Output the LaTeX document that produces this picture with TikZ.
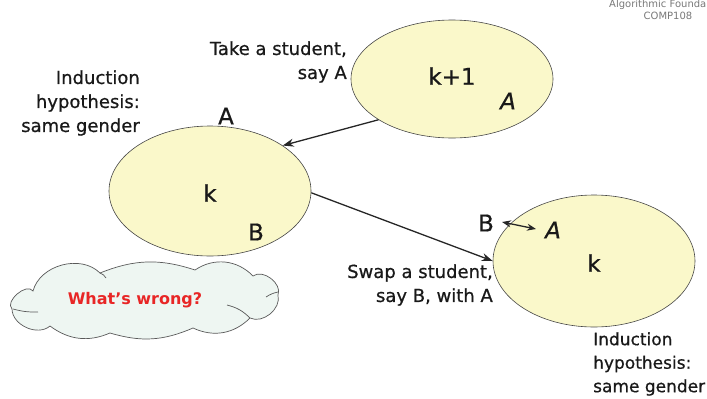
\documentclass[tikz,border=0pt]{standalone}
\usepackage{fontspec}
\setmainfont{DejaVu Sans}
\newfontfamily\handfont[FakeBold=0.7]{DejaVu Sans}
\usetikzlibrary{shapes.geometric,arrows.meta}
\definecolor{setfill}{RGB}{250,248,202}
\definecolor{setline}{RGB}{70,70,70}
\definecolor{cloudfill}{RGB}{238,246,242}
\definecolor{alertred}{RGB}{232,38,38}
\definecolor{headgray}{RGB}{120,120,120}
\tikzset{
  setblob/.style={ellipse, draw=setline, fill=setfill, line width=0.6pt, inner sep=0pt},
  bigletter/.style={font=\handfont\fontsize{23}{26}\selectfont, text=black!90, inner sep=0pt},
  remark/.style={font=\handfont\fontsize{18}{24}\selectfont, text=black!90, inner sep=0pt},
  link/.style={-{Stealth[length=11pt,width=8pt,inset=3.5pt]}, line width=1.3pt, draw=black!85},
  swaplink/.style={{Stealth[length=9pt,width=7pt,inset=3pt]}-{Stealth[length=9pt,width=7pt,inset=3pt]}, line width=1.3pt, draw=black!85},
  header/.style={font=\fontsize{10}{10}\selectfont, text=headgray, inner sep=0pt},
  cloudedge/.style={draw=black!65, line width=0.7pt}
}
\begin{document}
\begin{tikzpicture}[x=1pt,y=-1pt]
\useasboundingbox (0,0) rectangle (707,399);
\begin{scope}
\clip (0,0) rectangle (707,399);

% header
\node[header, anchor=west] (title) at (609,5) {Algorithmic Founda};
\node[header] (course) at (668,16) {COMP108};

% the three sets
\node[setblob, minimum width=202pt, minimum height=118pt] (big) at (452,79) {};
\node[setblob, minimum width=202pt, minimum height=130pt] (left) at (210,191) {};
\node[setblob, minimum width=202pt, minimum height=132pt] (right) at (594,261) {};

% labels inside and around the sets
\node[bigletter] (bigk) at (452,76) {k+1};
\node[bigletter] (bigA) at (508,101) {\itshape A};
\node[bigletter] (leftA) at (226,116) {A};
\node[bigletter] (leftk) at (210,193) {k};
\node[bigletter] (leftB) at (256,232) {B};
\node[bigletter] (rightB) at (486,223) {B};
\node[bigletter] (rightA) at (553,230) {\itshape A};
\node[bigletter] (rightk) at (594,263) {k};

% remarks
\node[remark, align=right, anchor=east] (take) at (347,62) {Take a student,\\say A};
\node[remark, align=right, anchor=east] (hypl) at (140,103) {Induction\\hypothesis:\\same gender};
\node[remark, align=right, anchor=east] (swap) at (493,285) {Swap a student,\\say B, with A};
\node[remark, align=left, anchor=west, font=\handfont\fontsize{17}{23.5}\selectfont] (hypr) at (593,364) {Induction\\hypothesis:\\same gender};

% connectors
\draw[link] (big.209) -- (left.32);
\draw[link] (left.-1) -- (right.180);
\coordinate (swapB) at (502,222);
\coordinate (swapA) at (536,229);
\draw[swaplink] (swapB) -- (swapA);

% the question cloud
\draw[cloudedge, fill=cloudfill]
  (33,291) to[bend left=60] (100,273)
           to[bend left=20] (195,270)
           to[bend left=40] (253,276)
           to[bend left=75] (278,295)
           to[bend left=65] (250,318)
           to[bend left=35] (193,328)
           to[bend left=20] (110,333)
           to[bend left=30] (50,326)
           to[bend left=65] (12,309)
           to[bend left=95] cycle;
\draw[cloudedge] (13,309) to[bend right=8] (38,312);
\draw[cloudedge] (266,297) to[bend left=10] (278,292);
\draw[cloudedge] (227,305) to[bend left=15] (250,318);
\draw[cloudedge] (100,273) to[bend left=20] (106,278);
\node[font=\fontsize{16}{18}\selectfont\bfseries, text=alertred] (wrong) at (135,300) {What’s wrong?};
\end{scope}
\end{tikzpicture}
\end{document}
